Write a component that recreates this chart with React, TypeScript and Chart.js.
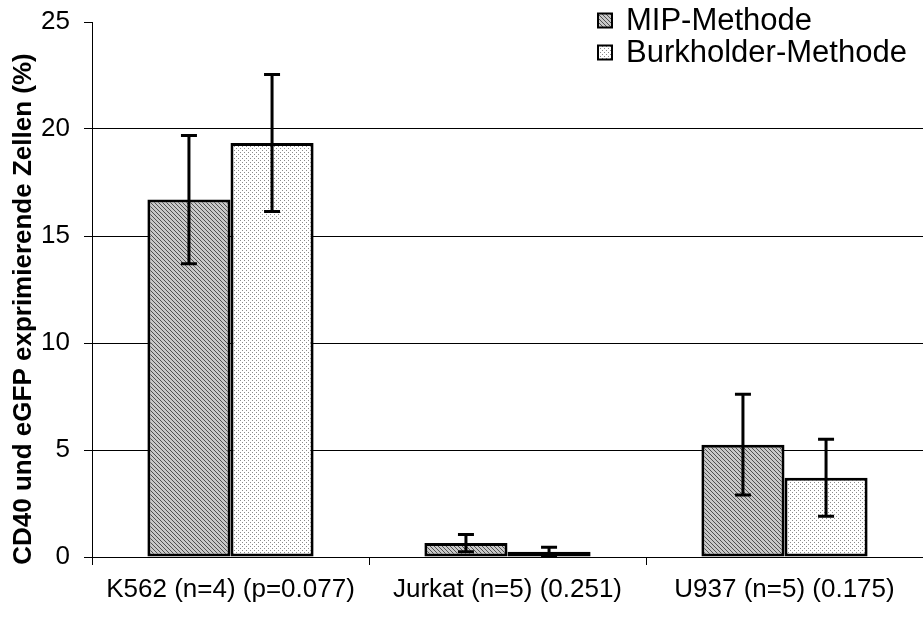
import React, { useEffect, useRef } from "react";
import { Chart, registerables } from "chart.js";

Chart.register(...registerables);

const categories = ["K562 (n=4) (p=0.077)", "Jurkat (n=5) (0.251)", "U937 (n=5) (0.175)"];
const seriesNames = ["MIP-Methode", "Burkholder-Methode"];
const mipValues = [16.7, 0.65, 5.25];
const mipErrors = [3.0, 0.4, 2.35];
const burkValues = [19.35, 0.25, 3.7];
const burkErrors = [3.2, 0.2, 1.8];
const yTicks = [0, 5, 10, 15, 20, 25];
const yTitle = "CD40 und eGFP exprimierende Zellen (%)";

const FONT = "Arial, 'Liberation Sans', sans-serif";

function hatchPattern(): CanvasPattern | string {
  const c = document.createElement("canvas");
  c.width = 4;
  c.height = 4;
  const g = c.getContext("2d");
  if (!g) return "#999";
  g.fillStyle = "#c8c8c8";
  g.fillRect(0, 0, 4, 4);
  g.fillStyle = "#505050";
  for (let i = 0; i < 4; i++) {
    g.fillRect(i, i, 1, 1);
  }
  return g.createPattern(c, "repeat") || "#999";
}

function dotPattern(): CanvasPattern | string {
  const c = document.createElement("canvas");
  c.width = 4;
  c.height = 4;
  const g = c.getContext("2d");
  if (!g) return "#eee";
  g.fillStyle = "#ffffff";
  g.fillRect(0, 0, 4, 4);
  g.fillStyle = "#8a8a8a";
  g.fillRect(0, 0, 1, 1);
  g.fillRect(2, 2, 1, 1);
  return g.createPattern(c, "repeat") || "#eee";
}

export default function App() {
  const ref = useRef<HTMLCanvasElement>(null);

  useEffect(() => {
    document.body.style.margin = "0";
    const canvas = ref.current;
    if (!canvas) return;
    const hatch = hatchPattern();
    const dots = dotPattern();
    const errs = [mipErrors, burkErrors];
    const fills = [hatch, dots];

    const errorBars = {
      id: "errorBars",
      afterDatasetsDraw(chart: any) {
        const ctx = chart.ctx;
        const yScale = chart.scales.y;
        ctx.save();
        ctx.strokeStyle = "#000";
        ctx.lineWidth = 3;
        chart.data.datasets.forEach((ds: any, di: number) => {
          const meta = chart.getDatasetMeta(di);
          meta.data.forEach((bar: any, i: number) => {
            const v = ds.data[i];
            const e = errs[di][i];
            const x = bar.x;
            const yt = yScale.getPixelForValue(v + e);
            const yb = yScale.getPixelForValue(Math.max(0, v - e));
            ctx.beginPath();
            ctx.moveTo(x, yt);
            ctx.lineTo(x, yb);
            ctx.moveTo(x - 8, yt);
            ctx.lineTo(x + 8, yt);
            ctx.moveTo(x - 8, yb);
            ctx.lineTo(x + 8, yb);
            ctx.stroke();
          });
        });
        ctx.restore();
      },
    };

    const textPlugin = {
      id: "customText",
      afterDraw(chart: any) {
        const ctx = chart.ctx;
        ctx.save();
        // legend
        ctx.font = "31px " + FONT;
        ctx.textBaseline = "middle";
        ctx.textAlign = "left";
        seriesNames.forEach((name, i) => {
          const y = 20.5 + i * 32;
          ctx.fillStyle = fills[i] as any;
          ctx.fillRect(598, y - 7, 14, 14);
          ctx.strokeStyle = "#000";
          ctx.lineWidth = 2;
          ctx.strokeRect(598, y - 7, 14, 14);
          ctx.fillStyle = "#000";
          ctx.fillText(name, 626, y + 1);
        });
        // y axis title
        ctx.translate(24, 309);
        ctx.rotate(-Math.PI / 2);
        ctx.font = "bold 26px " + FONT;
        ctx.textAlign = "center";
        ctx.textBaseline = "middle";
        ctx.fillStyle = "#000";
        ctx.fillText(yTitle, 0, 0);
        ctx.restore();
      },
    };

    const chart = new Chart(canvas, {
      type: "bar",
      data: {
        labels: categories,
        datasets: [
          {
            label: seriesNames[0],
            data: mipValues,
            backgroundColor: hatch as any,
            borderColor: "#000",
            borderWidth: 3,
            borderSkipped: false,
            categoryPercentage: 0.6,
            barPercentage: 1.0,
          },
          {
            label: seriesNames[1],
            data: burkValues,
            backgroundColor: dots as any,
            borderColor: "#000",
            borderWidth: 3,
            borderSkipped: false,
            categoryPercentage: 0.6,
            barPercentage: 1.0,
          },
        ],
      },
      options: {
        animation: false,
        responsive: false,
        maintainAspectRatio: false,
        layout: { padding: { top: 0, right: 0, bottom: 0, left: 6 } },
        plugins: {
          legend: { display: false },
          tooltip: { enabled: false },
        },
        scales: {
          x: {
            offset: true,
            afterFit(scale: any) {
              scale.height = 65;
            },
            grid: {
              offset: true,
              drawOnChartArea: false,
              tickLength: 8,
              tickColor: "#000",
              lineWidth: 1,
            },
            border: { color: "#000", width: 1 },
            ticks: {
              color: "#000",
              font: { family: FONT, size: 26 },
              padding: 9,
              maxRotation: 0,
              autoSkip: false,
            },
          },
          y: {
            min: 0,
            max: 25,
            afterFit(scale: any) {
              scale.width = 86;
              scale.paddingTop = 22;
            },
            afterBuildTicks(axis: any) {
              axis.ticks = yTicks.map((v) => ({ value: v }));
            },
            grid: {
              color: (c: any) => (c.tick && (c.tick.value === 25 || c.tick.value === 0) ? "rgba(0,0,0,0)" : "#000"),
              tickColor: "#000",
              tickLength: 8,
              lineWidth: 1,
            },
            border: { color: "#000", width: 1 },
            ticks: {
              color: "#000",
              font: { family: FONT, size: 26 },
              padding: 14,
            },
            title: { display: false },
          },
        },
      },
      plugins: [errorBars, textPlugin],
    });
    return () => chart.destroy();
  }, []);

  return (
    <div style={{ width: 923, height: 622 }}>
      <canvas ref={ref} width={923} height={622} style={{ display: "block" }} />
    </div>
  );
}
